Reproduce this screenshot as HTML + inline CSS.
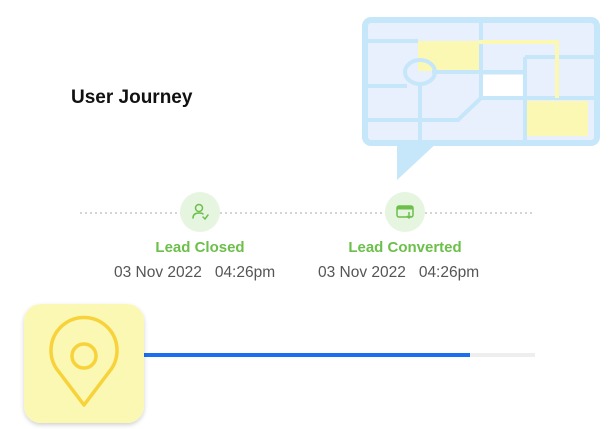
<!DOCTYPE html>
<html><head><style>
html,body{margin:0;padding:0;background:#fff;width:615px;height:429px;overflow:hidden;font-family:"Liberation Sans",sans-serif}
.t{position:absolute;white-space:nowrap}
</style></head><body>
<svg width="615" height="429" style="position:absolute;left:0;top:0">
<defs><filter id="sh" x="-20%" y="-20%" width="140%" height="140%"><feDropShadow dx="0" dy="2" stdDeviation="2" flood-color="#000" flood-opacity="0.18"/></filter></defs>
<polygon points="397,140 440,140 397,180" fill="#c6e6fa"/>
<rect x="365" y="20" width="232" height="123" rx="6" fill="#e9f0fd" stroke="#c6e6fa" stroke-width="6"/>
<rect x="418" y="41" width="61" height="30" fill="#fbf8b4"/>
<rect x="483" y="75" width="40" height="23" fill="#fff"/>
<rect x="527" y="101" width="61" height="35" fill="#fbf8b4"/>
<g stroke="#c6e6fa" stroke-width="4" fill="none">
<line x1="481" y1="20" x2="481" y2="98"/>
<line x1="365" y1="41" x2="418" y2="41"/>
<line x1="432" y1="72" x2="525" y2="72"/>
<line x1="525" y1="57" x2="525" y2="143"/>
<line x1="525" y1="57" x2="597" y2="57"/>
<line x1="481" y1="98" x2="597" y2="98"/>
<line x1="365" y1="86" x2="407" y2="86"/>
<line x1="420" y1="83" x2="420" y2="143"/>
<polyline points="365,120 458,120 481,98"/>
<ellipse cx="420" cy="72" rx="15" ry="12"/>
</g>
<polyline points="479,42 557,42 557,98" fill="none" stroke="#fbf8b4" stroke-width="4"/>
<line x1="80" y1="213" x2="535" y2="213" stroke="#bbb" stroke-width="1.3" stroke-dasharray="2,3"/>
<circle cx="200" cy="212" r="20" fill="#e6f5e0"/>
<circle cx="405" cy="212" r="20" fill="#e6f5e0"/>
<g stroke="#6cbf4a" stroke-width="1.5" fill="none" stroke-linecap="round">
<circle cx="199" cy="208" r="3.5"/>
<path d="M193 218 q0-5 6-5 q3 0 4 1"/>
<path d="M203 217 l2 2 l3-4"/>
</g>
<rect x="397" y="206" width="16" height="11" rx="2" fill="none" stroke="#6cbf4a" stroke-width="1.5"/>
<rect x="397" y="206" width="16" height="3.5" fill="#6cbf4a"/>
<path d="M409 212 v6 M407 216 l2 2 l2-2" stroke="#6cbf4a" stroke-width="1.5" fill="none"/>
<line x1="140" y1="355" x2="535" y2="355" stroke="#eeeeee" stroke-width="4"/>
<line x1="140" y1="355" x2="470" y2="355" stroke="#1a6ff0" stroke-width="4"/>
<rect x="24" y="304" width="120" height="119" rx="17" fill="#fbf8b4" filter="url(#sh)"/>
<path d="M84 405 L59 372 A33 33 0 1 1 109 372 Z" fill="none" stroke="#f7d23a" stroke-width="3.5" stroke-linejoin="round"/>
<circle cx="84" cy="356" r="12" fill="none" stroke="#f7d23a" stroke-width="3.5"/>
</svg>
<div class="t" style="left:71px;top:87px;font-size:19px;font-weight:bold;color:#111">User Journey</div>
<div class="t" style="left:100px;width:200px;text-align:center;top:239px;font-size:15px;font-weight:bold;color:#6cbf4a">Lead Closed</div>
<div class="t" style="left:305px;width:200px;text-align:center;top:239px;font-size:15px;font-weight:bold;color:#6cbf4a">Lead Converted</div>
<div class="t" style="left:114px;top:264px;font-size:15.5px;color:#555">03 Nov 2022&nbsp;&nbsp;&nbsp;04:26pm</div>
<div class="t" style="left:318px;top:264px;font-size:15.5px;color:#555">03 Nov 2022&nbsp;&nbsp;&nbsp;04:26pm</div>
</body></html>
